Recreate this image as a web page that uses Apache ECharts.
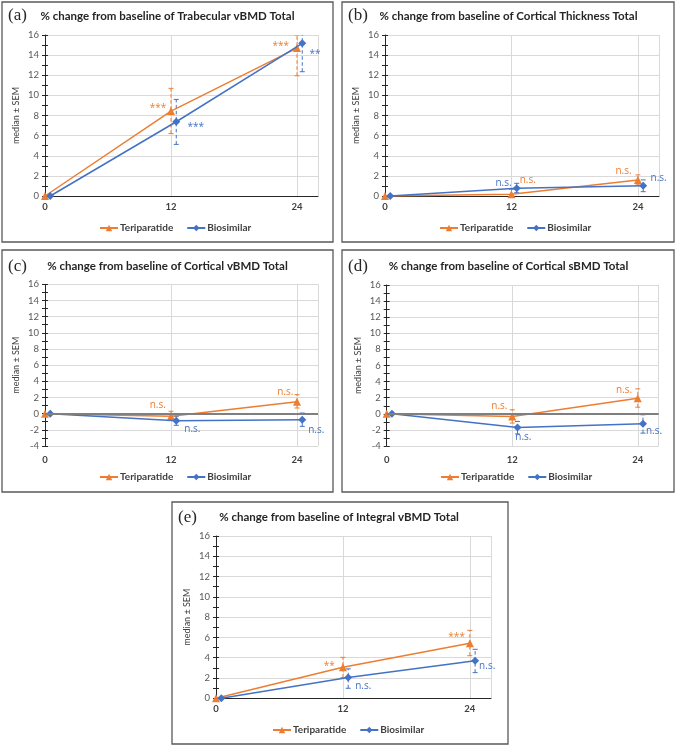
<!DOCTYPE html>
<html><head><meta charset="utf-8">
<script src="https://cdn.jsdelivr.net/npm/echarts@6/dist/echarts.min.js"></script>
<style>html,body{margin:0;padding:0;background:#fff}#c{width:676px;height:747px}</style>
</head><body><div id="c"></div>
<script>
// ---------- data ----------
const seriesNames = ['Teriparatide', 'Biosimilar'];
const xTicks = [0, 12, 24];
const xTeriparatide = [0, 12, 24];
const xBiosimilar = [0.5, 12.5, 24.5];

// (a) Trabecular vBMD
const trabTeri = [0, 8.44, 14.7];
const trabTeriLo = [0, 6.2, 11.95];
const trabTeriHi = [0, 10.7, 16.0];
const trabBios = [0, 7.38, 15.17];
const trabBiosLo = [0, 5.13, 12.35];
const trabBiosHi = [0, 9.6, 16.2];
const trabAnnTeri = [[10.76, 8.75, '***'], [22.45, 14.94, '***']];
const trabAnnBios = [[14.35, 6.83, '***'], [25.71, 14.12, '**']];

// (b) Cortical Thickness
const ctTeri = [0, 0.17, 1.59];
const ctTeriLo = [0, -0.1, 1.1];
const ctTeriHi = [0, 0.65, 2.1];
const ctBios = [0, 0.76, 1.03];
const ctBiosLo = [0, 0.33, 0.43];
const ctBiosHi = [0, 1.26, 1.6];
const ctAnnTeri = [[13.55, 1.59, 'n.s.'], [22.63, 2.42, 'n.s.']];
const ctAnnBios = [[11.24, 1.32, 'n.s.'], [25.96, 1.76, 'n.s.']];

// (c) Cortical vBMD
const cvTeri = [0, -0.33, 1.48];
const cvTeriLo = [0, -0.75, 0.7];
const cvTeriHi = [0, 0.3, 2.35];
const cvBios = [0, -0.87, -0.74];
const cvBiosLo = [0, -1.44, -1.57];
const cvBiosHi = [0, -0.33, 0.08];
const cvAnnTeri = [[10.74, 1.11, 'n.s.'], [22.88, 2.64, 'n.s.']];
const cvAnnBios = [[14.04, -1.86, 'n.s.'], [25.83, -2.06, 'n.s.']];

// (d) Cortical sBMD
const csTeri = [0, -0.33, 1.94];
const csTeriLo = [0, -1.15, 0.82];
const csTeriHi = [0, 0.5, 3.1];
const csBios = [0, -1.7, -1.24];
const csBiosLo = [0, -2.5, -2.4];
const csBiosHi = [0, -0.95, -0.12];
const csAnnTeri = [[10.77, 0.99, 'n.s.'], [22.69, 2.98, 'n.s.']];
const csAnnBios = [[13.06, -2.94, 'n.s.'], [25.55, -2.11, 'n.s.']];

// (e) Integral vBMD
const ivTeri = [0, 3.06, 5.42];
const ivTeriLo = [0, 2.04, 4.2];
const ivTeriHi = [0, 4.04, 6.7];
const ivBios = [0, 2.04, 3.71];
const ivBiosLo = [0, 0.99, 2.53];
const ivBiosHi = [0, 2.9, 4.83];
const ivAnnTeri = [[10.71, 3.21, '**'], [22.75, 6.02, '***']];
const ivAnnBios = [[13.92, 1.21, 'n.s.'], [25.64, 3.12, 'n.s.']];

// ---------- layout / style ----------
const ORANGE = '#ED7D31', BLUE = '#4472C4';
const panels = [
  {lab:'(a)', title:'% change from baseline of Trabecular vBMD Total', box:[2,2,331,240],
   grid:{left:45, top:35, width:273, height:161}, yMin:0, yMax:16, zero:false, xMargin:6,
   titleX:167.5, titleY:16, legend:[99,223],
   d:[trabTeri,trabTeriLo,trabTeriHi,trabBios,trabBiosLo,trabBiosHi,trabAnnTeri,trabAnnBios]},
  {lab:'(b)', title:'% change from baseline of Cortical Thickness Total', box:[342,2,332,240],
   grid:{left:385, top:35, width:274, height:161}, yMin:0, yMax:16, zero:false, xMargin:6,
   titleX:508.5, titleY:16, legend:[439,223],
   d:[ctTeri,ctTeriLo,ctTeriHi,ctBios,ctBiosLo,ctBiosHi,ctAnnTeri,ctAnnBios]},
  {lab:'(c)', title:'% change from baseline of Cortical vBMD Total', box:[2,250,331,242],
   grid:{left:45, top:284.3, width:273, height:161.7}, yMin:-4, yMax:16, zero:true, xMargin:9,
   titleX:167.5, titleY:266.7, legend:[99,472],
   d:[cvTeri,cvTeriLo,cvTeriHi,cvBios,cvBiosLo,cvBiosHi,cvAnnTeri,cvAnnBios]},
  {lab:'(d)', title:'% change from baseline of Cortical sBMD Total', box:[342,250,332,242],
   grid:{left:386.7, top:285, width:272, height:161}, yMin:-4, yMax:16, zero:true, xMargin:9,
   titleX:508.5, titleY:266.7, legend:[440,472],
   d:[csTeri,csTeriLo,csTeriHi,csBios,csBiosLo,csBiosHi,csAnnTeri,csAnnBios]},
  {lab:'(e)', title:'% change from baseline of Integral vBMD Total', box:[172,502,336,242],
   grid:{left:216, top:536, width:275, height:162.3}, yMin:0, yMax:16, zero:false, xMargin:6,
   titleX:339, titleY:517.3, legend:[272,725],
   d:[ivTeri,ivTeriLo,ivTeriHi,ivBios,ivBiosLo,ivBiosHi,ivAnnTeri,ivAnnBios]}
];

function zip() {
  const arrs = Array.prototype.slice.call(arguments);
  return arrs[0].map((_, i) => arrs.map(a => a[i]));
}
function errRender(color) {
  return function (params, api) {
    const x = api.value(0), lo = api.value(1), hi = api.value(2);
    const p1 = api.coord([x, lo]), p2 = api.coord([x, hi]);
    const cw = 2.5;
    const s = {stroke: color, lineWidth: 1};
    return {type:'group', children:[
      {type:'line', shape:{x1:p1[0], y1:p1[1], x2:p2[0], y2:p2[1]}, style:{stroke:color, lineWidth:1, lineDash:[3.5,2.5]}},
      {type:'line', shape:{x1:p1[0]-cw, y1:p1[1], x2:p1[0]+cw, y2:p1[1]}, style:s},
      {type:'line', shape:{x1:p2[0]-cw, y1:p2[1], x2:p2[0]+cw, y2:p2[1]}, style:s}
    ]};
  };
}
function annRender(arr, color) {
  return function (params, api) {
    const p = api.coord([api.value(0), api.value(1)]);
    return {type:'text', x:p[0], y:p[1], style:{text: arr[params.dataIndex][2], fill: color,
      font: '10px "Open Sans", sans-serif', align:'center', verticalAlign:'middle'}};
  };
}

const option = {animation:false, backgroundColor:'#fff',
  grid:[], xAxis:[], yAxis:[], series:[], legend:[], graphic:[]};

panels.forEach((p, i) => {
  const [tv, tlo, thi, bv, blo, bhi, annT, annB] = p.d;
  option.grid.push(Object.assign({containLabel:false}, p.grid));
  option.xAxis.push({type:'value', gridIndex:i, min:0, max:26, interval:12,
    axisLine:{show:!p.zero, onZero:false, lineStyle:{color:'#262626', width:1}},
    axisTick:{show:false},
    axisLabel:{fontSize:9.5, fontWeight:'bold', color:'#404040', margin:p.xMargin, fontFamily:'Lato',
      formatter: v => xTicks.indexOf(v) >= 0 ? String(v) : ''},
    splitLine:{show:true, lineStyle:{color:'#d9d9d9', width:1}}});
  option.yAxis.push({type:'value', gridIndex:i, position:'left', min:p.yMin, max:p.yMax, interval:2,
    axisLine:{show:true, lineStyle:{color:'#262626', width:1}},
    axisTick:{show:true, length:3, lineStyle:{color:'#262626'}},
    minorTick:{show:true, splitNumber:2, length:3, lineStyle:{color:'#262626'}},
    axisLabel:{fontSize:9.5, color:'#595959', margin:6, fontFamily:'Lato'},
    splitLine:{show:true, lineStyle:{color:'#d9d9d9', width:1}},
    name:'median ± SEM', nameLocation:'middle', nameGap:24,
    nameTextStyle:{fontSize:9, color:'#404040', fontFamily:'Lato'}});
  option.yAxis.push({type:'value', gridIndex:i, position:'left', min:p.yMin, max:p.yMax, interval:2,
    axisLine:{show:false}, axisLabel:{show:false}, splitLine:{show:false},
    axisTick:{show:true, inside:true, length:3, lineStyle:{color:'#262626'}},
    minorTick:{show:true, splitNumber:2, length:3, lineStyle:{color:'#262626'}}});
  const yi = i * 2;
  if (p.zero) {
    option.series.push({type:'line', xAxisIndex:i, yAxisIndex:yi, data:[], silent:true, z:1,
      markLine:{silent:true, symbol:['none','none'], label:{show:false},
        lineStyle:{color:'#7f7f7f', width:2.2, type:'solid'}, data:[{yAxis:0}]}});
  }
  option.series.push({name:seriesNames[0], type:'line', xAxisIndex:i, yAxisIndex:yi,
    data:zip(xTeriparatide, tv), symbol:'triangle', symbolSize:8, color:ORANGE,
    lineStyle:{color:ORANGE, width:1.5}, itemStyle:{color:ORANGE}, z:3, clip:false});
  option.series.push({name:seriesNames[1], type:'line', xAxisIndex:i, yAxisIndex:yi,
    data:zip(xBiosimilar, bv), symbol:'diamond', symbolSize:8, color:BLUE,
    lineStyle:{color:BLUE, width:1.5}, itemStyle:{color:BLUE}, z:4, clip:false});
  option.series.push({type:'custom', xAxisIndex:i, yAxisIndex:yi, silent:true, z:2, clip:true,
    renderItem:errRender(ORANGE), data:zip(xTeriparatide, tlo, thi).filter(r => r[1] !== r[2])});
  option.series.push({type:'custom', xAxisIndex:i, yAxisIndex:yi, silent:true, z:2, clip:true,
    renderItem:errRender(BLUE), data:zip(xBiosimilar, blo, bhi).filter(r => r[1] !== r[2])});
  option.series.push({type:'custom', xAxisIndex:i, yAxisIndex:yi, silent:true, z:5,
    renderItem:annRender(annT, ORANGE), data:annT.map(r => [r[0], r[1]])});
  option.series.push({type:'custom', xAxisIndex:i, yAxisIndex:yi, silent:true, z:5,
    renderItem:annRender(annB, BLUE), data:annB.map(r => [r[0], r[1]])});
  option.legend.push({data:seriesNames, left:p.legend[0], top:p.legend[1], padding:0,
    itemWidth:18, itemHeight:8, itemGap:13, selectedMode:false,
    textStyle:{fontSize:10, fontWeight:'bold', color:'#404040', fontFamily:'Lato', padding:[0,0,0,-3]}});
  option.graphic.push({type:'rect', shape:{x:p.box[0], y:p.box[1], width:p.box[2], height:p.box[3]},
    style:{fill:'none', stroke:'#595959', lineWidth:1.3}, silent:true, z:0});
  option.graphic.push({type:'text', x:p.titleX, y:p.titleY, silent:true,
    style:{text:p.title, fill:'#262626', font:'bold 11.5px Lato', align:'center', verticalAlign:'middle'}});
  option.graphic.push({type:'text', x:p.box[0] + 6, y:p.titleY, silent:true,
    style:{text:p.lab, fill:'#262626', font:'17px "Liberation Serif"', align:'left', verticalAlign:'middle'}});
});

const chart = echarts.init(document.getElementById('c'), null, {renderer:'canvas'});
chart.setOption(option);
</script>
</body></html>
